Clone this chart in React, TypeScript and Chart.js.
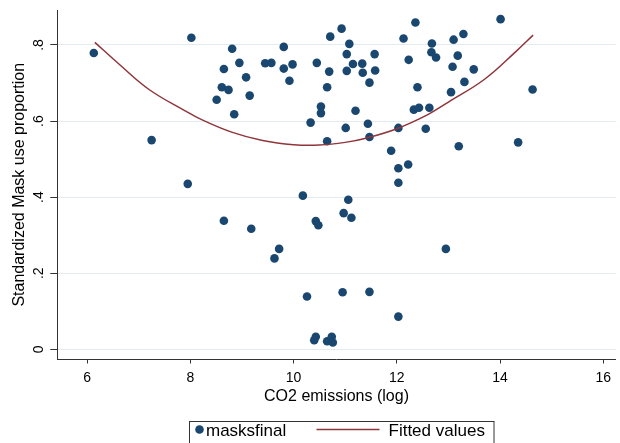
import React, { useEffect, useRef } from "react";
import { Chart, registerables } from "chart.js";

Chart.register(...registerables);

const FONT = "'Liberation Sans', Arial, Helvetica, sans-serif";

const xTickValues = [6, 8, 10, 12, 14, 16];
const yTickValues = [0, 0.2, 0.4, 0.6, 0.8];
const yTickLabels = ["0", ".2", ".4", ".6", ".8"];

const seriesLabels = ["masksfinal", "Fitted values"];

const co2Log = [
  6.13, 8.02, 8.81, 8.95, 8.65, 9.08, 8.61, 8.74, 8.51, 9.15, 8.85, 9.45, 9.57, 9.81, 9.81,
  9.98, 9.92, 7.25, 7.95, 10.18, 10.33, 10.53, 10.53, 10.45, 10.69, 10.65, 10.71, 10.65,
  10.93, 11.08, 11.03, 11.15, 11.33, 11.03, 11.34, 11.57, 11.58, 11.47, 11.2, 11.01, 11.44,
  11.47, 11.06, 11.89, 12.03, 12.03, 12.22, 12.03, 12.13, 12.36, 12.23, 12.4, 12.33, 12.43,
  12.63, 12.56, 12.68, 12.67, 12.76, 13.1, 13.29, 13.18, 13.08, 13.49, 13.31, 13.05, 13.2,
  14.01, 14.35, 14.63, 8.65, 9.18, 10.43, 10.48, 9.72, 9.63, 10.26, 10.43, 10.4, 10.65,
  10.74, 10.76, 10.97, 11.12, 12.95, 10.95, 11.47, 12.03,
];

const maskShare = [
  0.779, 0.819, 0.79, 0.753, 0.737, 0.715, 0.689, 0.682, 0.656, 0.667, 0.618, 0.752, 0.753,
  0.795, 0.738, 0.749, 0.706, 0.55, 0.435, 0.404, 0.596, 0.638, 0.621, 0.753, 0.73, 0.689,
  0.822, 0.547, 0.843, 0.803, 0.776, 0.75, 0.751, 0.732, 0.727, 0.776, 0.733, 0.701, 0.627,
  0.582, 0.593, 0.558, 0.393, 0.522, 0.582, 0.476, 0.486, 0.438, 0.817, 0.859, 0.761, 0.689,
  0.63, 0.635, 0.635, 0.58, 0.804, 0.781, 0.767, 0.814, 0.829, 0.772, 0.743, 0.736, 0.703,
  0.676, 0.534, 0.868, 0.544, 0.683, 0.338, 0.317, 0.337, 0.326, 0.264, 0.239, 0.139, 0.033,
  0.024, 0.021, 0.033, 0.018, 0.358, 0.346, 0.264, 0.15, 0.151, 0.086,
];

const fitX = [6.15, 6.6, 7.2, 7.9, 8.2, 8.8, 9.4, 10.0, 10.5, 11.0, 11.4, 12.0, 12.6, 13.0, 13.7, 14.3, 14.64];
const fitY = [0.807, 0.752, 0.683, 0.627, 0.605, 0.571, 0.549, 0.538, 0.537, 0.544, 0.555, 0.58, 0.617, 0.65, 0.71, 0.782, 0.826];

const NAVY = "#1a476f";
const MAROON = "#90353b";
const AXIS = "#333333";

const decorPlugin = {
  id: "stataDecor",
  afterDraw(chart: any) {
    const ctx = chart.ctx;
    const ys = chart.scales.y;
    ctx.save();
    ctx.fillStyle = "#000";
    ctx.font = `14px ${FONT}`;
    ctx.textAlign = "center";
    ctx.textBaseline = "alphabetic";
    ys.ticks.forEach((t: any, i: number) => {
      const py = ys.getPixelForValue(t.value);
      ctx.save();
      ctx.translate(ys.right - 14, py);
      ctx.rotate(-Math.PI / 2);
      ctx.fillText(yTickLabels[i] ?? String(t.value), 0, 0);
      ctx.restore();
    });

    const boxL = 189.5;
    const boxR = 494;
    const boxT = 421.5;
    ctx.strokeStyle = AXIS;
    ctx.lineWidth = 1;
    ctx.strokeRect(boxL, boxT, boxR - boxL, 40);
    const cy = 429.5;
    ctx.fillStyle = NAVY;
    ctx.beginPath();
    ctx.arc(199.5, cy, 4.3, 0, Math.PI * 2);
    ctx.fill();
    ctx.fillStyle = "#000";
    ctx.font = `17px ${FONT}`;
    ctx.textAlign = "left";
    ctx.textBaseline = "alphabetic";
    ctx.fillText(chart.data.datasets[1].label, 206, 436);
    ctx.strokeStyle = MAROON;
    ctx.lineWidth = 1.3;
    ctx.beginPath();
    ctx.moveTo(316.5, cy);
    ctx.lineTo(379.5, cy);
    ctx.stroke();
    ctx.fillStyle = "#000";
    ctx.fillText(chart.data.datasets[0].label, 388.5, 436);
    ctx.restore();
  },
};

export default function App() {
  const canvasRef = useRef<HTMLCanvasElement | null>(null);

  useEffect(() => {
    document.body.style.margin = "0";
    const canvas = canvasRef.current;
    if (!canvas) return;
    const points = co2Log.map((x, i) => ({ x, y: maskShare[i] }));
    const fit = fitX.map((x, i) => ({ x, y: fitY[i] }));

    const chart = new Chart(canvas, {
      type: "scatter",
      data: {
        datasets: [
          {
            label: seriesLabels[1],
            data: fit,
            showLine: true,
            borderColor: MAROON,
            backgroundColor: MAROON,
            borderWidth: 1.5,
            pointRadius: 0,
            tension: 0.4,
            order: 0,
          } as any,
          {
            label: seriesLabels[0],
            data: points,
            showLine: false,
            pointRadius: 4.3,
            pointBorderWidth: 0,
            backgroundColor: NAVY,
            borderColor: NAVY,
            order: 1,
          } as any,
        ],
      },
      options: {
        animation: false,
        responsive: false,
        maintainAspectRatio: false,
        layout: { padding: { top: 10, left: 0, right: 0, bottom: 0 } },
        plugins: {
          legend: { display: false },
          tooltip: { enabled: false },
        },
        scales: {
          x: {
            type: "linear",
            min: 5.423,
            max: 16.24,
            afterBuildTicks: (s: any) => {
              s.ticks = xTickValues.map((v) => ({ value: v }));
            },
            afterFit: (s: any) => {
              s.height = 83.5;
            },
            grid: { drawOnChartArea: false, drawTicks: true, tickLength: 4, tickColor: AXIS, tickWidth: 1 },
            border: { display: true, color: AXIS, width: 1 },
            ticks: {
              font: { size: 14, family: FONT },
              color: "#000",
              padding: 6,
              autoSkip: false,
              maxRotation: 0,
              minRotation: 0,
              callback: (v: any) => String(v),
            },
            title: {
              display: true,
              text: "CO2 emissions (log)",
              font: { size: 16, family: FONT },
              color: "#000",
              padding: { top: 0, bottom: 36.5 },
            },
          },
          y: {
            type: "linear",
            min: -0.0268,
            max: 0.892,
            afterBuildTicks: (s: any) => {
              s.ticks = yTickValues.map((v) => ({ value: v }));
            },
            afterFit: (s: any) => {
              s.width = 57.3;
            },
            grid: { color: "#e2ebee", lineWidth: 1, drawTicks: true, tickLength: 7, tickColor: AXIS, tickWidth: 1 },
            border: { display: true, color: AXIS, width: 1 },
            ticks: { display: false },
            title: {
              display: true,
              text: "Standardized Mask use proportion",
              font: { size: 16, family: FONT },
              color: "#000",
              padding: { top: 10, bottom: 0 },
            },
          },
        },
      },
      plugins: [decorPlugin],
    });
    return () => chart.destroy();
  }, []);

  return (
    <div style={{ width: 620, height: 443, background: "#fff" }}>
      <canvas ref={canvasRef} width={620} height={443} style={{ display: "block" }} />
    </div>
  );
}
